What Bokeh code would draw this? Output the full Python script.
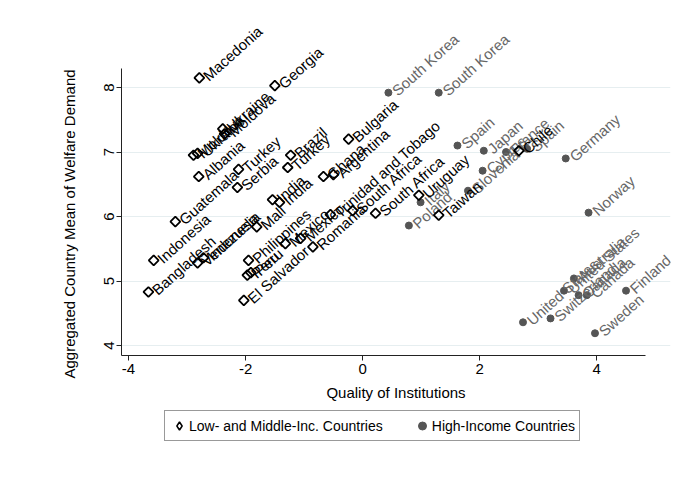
import math
from bokeh.plotting import figure
from bokeh.models import ColumnDataSource, FixedTicker, Legend, LegendItem, Title
from bokeh.layouts import column
from bokeh.core.properties import value
from bokeh.embed import file_html
from bokeh.resources import INLINE

# Low- and middle-income countries
low_names = ["Macedonia", "Georgia", "Ukraine", "Moldova", "Moldova", "Ukraine", "Albania",
             "Turkey", "Serbia", "Guatemala", "Indonesia", "Bangladesh", "Venezuela", "Indonesia",
             "Mali", "India", "India", "Brazil", "Turkey", "Ghana", "Argentina", "Bulgaria",
             "Philippines", "Peru", "Peru", "El Salvador", "Mexico", "Mexico", "Romania",
             "Trinidad and Tobago", "South Africa", "South Africa", "Uruguay", "Taiwan", "Chile"]
low_x = [-2.79, -1.50, -2.39, -2.36, -2.89, -2.82, -2.80,
         -2.12, -2.14, -3.20, -3.57, -3.66, -2.82, -2.72,
         -1.81, -1.54, -1.42, -1.23, -1.28, -0.67, -0.50, -0.24,
         -1.95, -1.91, -1.97, -2.03, -1.32, -1.06, -0.85,
         -0.55, -0.17, 0.22, 0.96, 1.30, 2.67]
low_y = [8.15, 8.03, 7.36, 7.28, 6.95, 6.98, 6.62,
         6.73, 6.45, 5.92, 5.32, 4.83, 5.28, 5.36,
         5.84, 6.26, 6.22, 6.95, 6.76, 6.62, 6.65, 7.20,
         5.32, 5.13, 5.09, 4.70, 5.58, 5.66, 5.53,
         6.03, 6.09, 6.05, 6.33, 6.02, 7.02]

# High-income countries
high_names = ["South Korea", "South Korea", "Spain", "Japan", "Cyprus", "Slovenia", "Poland",
              "Italy", "France", "Spain", "Germany", "Norway", "United States", "Switzerland",
              "United States", "Australia", "Canada", "Canada", "Finland", "Sweden"]
high_x = [0.44, 1.30, 1.62, 2.07, 2.05, 1.80, 0.79,
          0.99, 2.45, 2.81, 3.47, 3.86, 2.74, 3.21,
          3.44, 3.61, 3.69, 3.83, 4.50, 3.97]
high_y = [7.92, 7.92, 7.10, 7.02, 6.71, 6.40, 5.86,
          6.22, 7.00, 7.05, 6.90, 6.06, 4.36, 4.42,
          4.85, 5.04, 4.78, 4.78, 4.85, 4.19]

x_ticks = [-4, -2, 0, 2, 4]
y_ticks = [4, 5, 6, 7, 8]
legend_labels = ["Low- and Middle-Inc. Countries", "High-Income Countries"]

FONT = "Liberation Sans"
ANG = math.radians(42)

p = figure(width=685, height=405, x_range=(-4.12, 5.26), y_range=(3.845, 9.07),
           output_backend="svg", toolbar_location=None,
           min_border_left=121, min_border_top=18, min_border_right=15, min_border_bottom=50)
p.outline_line_color = None
p.background_fill_color = "white"

low_src = ColumnDataSource(dict(x=low_x, y=low_y, name=low_names))
high_src = ColumnDataSource(dict(x=high_x, y=high_y, name=high_names))

p.scatter("x", "y", source=high_src, marker="circle", size=7,
          fill_color="#555555", line_color="#555555")
p.text("x", "y", text="name", source=high_src, angle=ANG,
       text_align="left", text_baseline="middle", x_offset=6,
       text_font=value(FONT), text_font_size="15px", text_color="#666666")

p.scatter("x", "y", source=low_src, marker="square", angle=math.pi / 4, size=7,
          fill_color="white", fill_alpha=0, line_color="black", line_width=1.8)
p.text("x", "y", text="name", source=low_src, angle=ANG,
       text_align="left", text_baseline="middle", x_offset=6,
       text_font=value(FONT), text_font_size="15px", text_color="black")

# axes
xa = p.xaxis[0]
xa.ticker = FixedTicker(ticks=x_ticks)
xa.major_label_overrides = {t: str(t) for t in x_ticks}
xa.axis_label = "Quality of Institutions"
xa.bounds = (-4.12, 4.84)
ya = p.yaxis[0]
ya.ticker = FixedTicker(ticks=y_ticks)
ya.major_label_overrides = {t: str(t) for t in y_ticks}
ya.major_label_orientation = "vertical"
ya.bounds = (3.845, 8.29)
for ax in (xa, ya):
    ax.axis_line_color = "#222222"
    ax.axis_line_width = 1
    ax.major_tick_line_color = "#222222"
    ax.major_tick_out = 5
    ax.major_tick_in = 0
    ax.minor_tick_line_color = None
    ax.major_label_text_font = FONT
    ax.major_label_text_font_size = "15px"
    ax.major_label_text_color = "black"
    ax.axis_label_text_font = FONT
    ax.axis_label_text_font_size = "15px"
    ax.axis_label_text_font_style = "normal"
    ax.axis_label_text_color = "black"
xa.major_label_standoff = 3
xa.axis_label_standoff = 7
ya.major_label_standoff = 2

ytitle = Title(text="Aggregated Country Mean of Welfare Demand", align="left", offset=-23,
               text_font=FONT, text_font_size="15px", text_font_style="normal",
               text_color="black", standoff=48)
p.add_layout(ytitle, "left")

p.xgrid.grid_line_color = None
p.ygrid.ticker = FixedTicker(ticks=y_ticks)
p.ygrid.grid_line_color = "#e6eef0"
p.ygrid.grid_line_width = 1

# legend panel (data drawn off-frame so only the legend shows)
p2 = figure(width=685, height=97, x_range=(100, 101), y_range=(100, 101),
            x_axis_type=None, y_axis_type=None, output_backend="svg", toolbar_location=None,
            min_border=0)
p2.outline_line_color = None
p2.xgrid.grid_line_color = None
p2.ygrid.grid_line_color = None
lr_low = p2.scatter("x", "y", source=low_src, marker="diamond", size=9,
                    fill_color="white", line_color="black", line_width=1.5)
lr_high = p2.scatter("x", "y", source=high_src, marker="circle", size=7,
                     fill_color="#555555", line_color="#555555")
legend = Legend(items=[LegendItem(label=legend_labels[0], renderers=[lr_low]),
                       LegendItem(label=legend_labels[1], renderers=[lr_high])],
                orientation="horizontal", location=(43, 61),
                border_line_color="#333333", border_line_width=1,
                background_fill_color="white", background_fill_alpha=1,
                padding=4, spacing=29, glyph_width=20, glyph_height=21,
                label_standoff=0, label_height=21,
                label_text_font=FONT, label_text_font_size="14px", label_text_color="black",
                margin=0)
p2.add_layout(legend, "center")

open("out.html", "w").write(file_html(column(p, p2), INLINE))
